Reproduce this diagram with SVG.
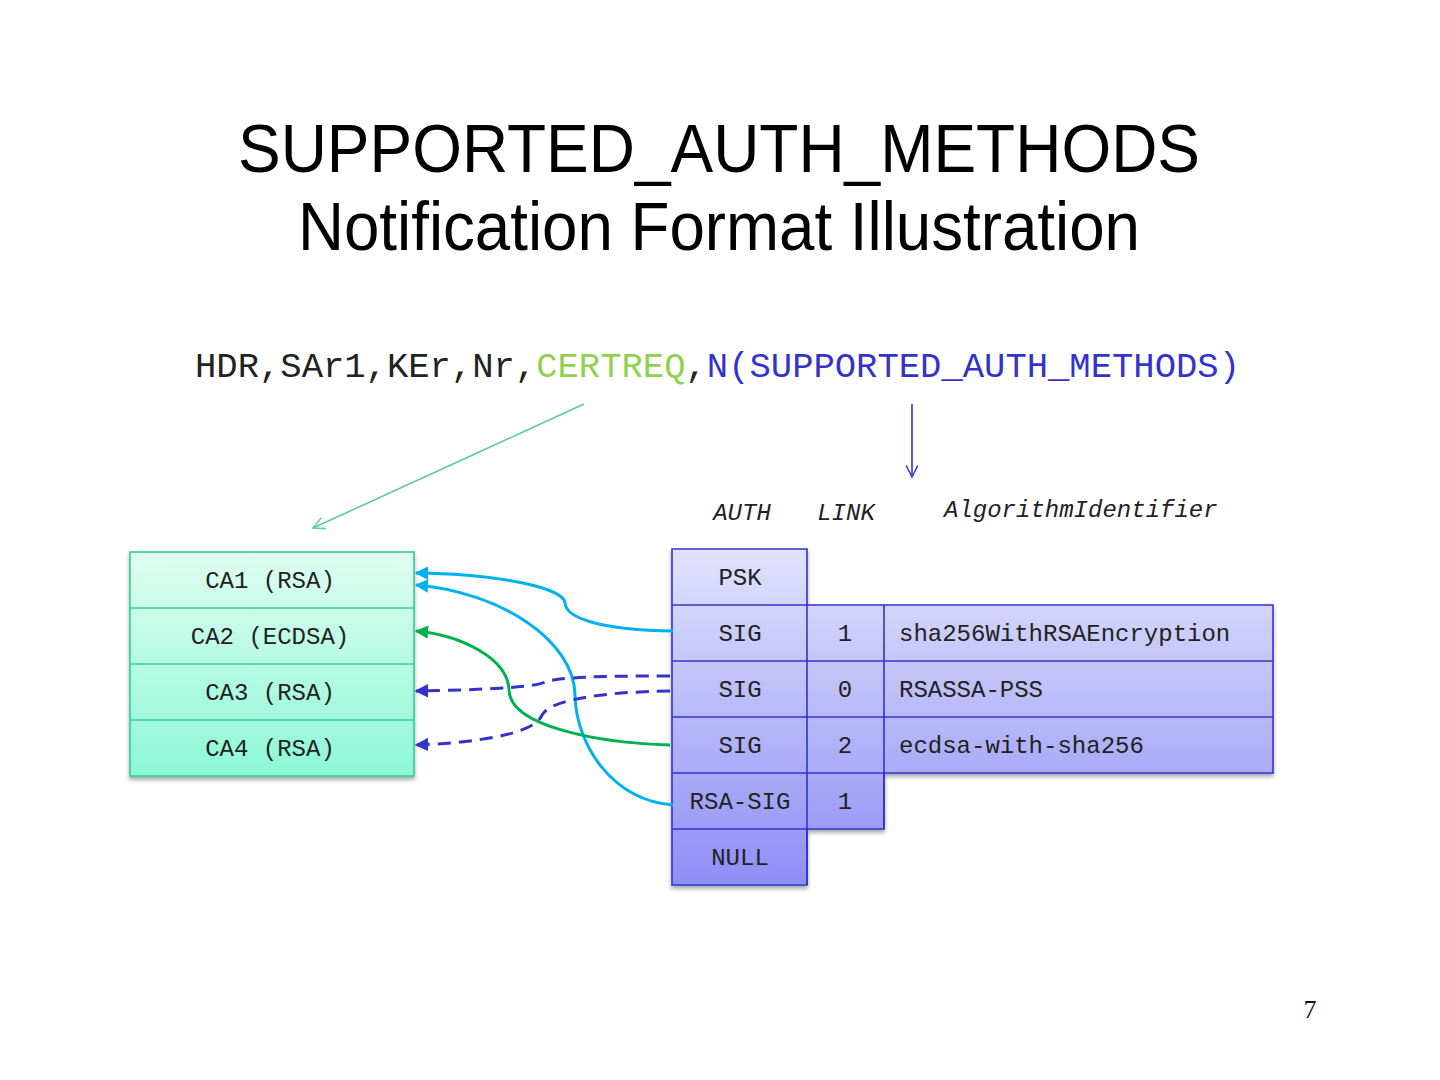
<svg xmlns="http://www.w3.org/2000/svg" width="1440" height="1080" viewBox="0 0 1440 1080">
<defs>
<linearGradient id="gMint" x1="0" y1="0" x2="0" y2="1">
<stop offset="0" stop-color="#E0FDF1"/>
<stop offset="1" stop-color="#8DF8D6"/>
</linearGradient>
<linearGradient id="gLav" gradientUnits="userSpaceOnUse" x1="0" y1="549" x2="0" y2="885">
<stop offset="0" stop-color="#E2E2FC"/>
<stop offset="1" stop-color="#8E8EF6"/>
</linearGradient>
<marker id="aCyan" viewBox="0 0 10 10" refX="9" refY="5" markerWidth="4.5" markerHeight="4.5" orient="auto" markerUnits="strokeWidth">
<path d="M0,0 L10,5 L0,10 z" fill="#00B0F0"/>
</marker>
<marker id="aGreen" viewBox="0 0 10 10" refX="9" refY="5" markerWidth="4.5" markerHeight="4.5" orient="auto" markerUnits="strokeWidth">
<path d="M0,0 L10,5 L0,10 z" fill="#00B050"/>
</marker>
<marker id="aBlue" viewBox="0 0 10 10" refX="9" refY="5" markerWidth="4.5" markerHeight="4.5" orient="auto" markerUnits="strokeWidth">
<path d="M0,0 L10,5 L0,10 z" fill="#3333CC"/>
</marker>
<marker id="oGreen" viewBox="0 0 12 12" refX="11" refY="6" markerWidth="14" markerHeight="14" orient="auto" markerUnits="userSpaceOnUse">
<path d="M1,1 L11,6 L1,11" fill="none" stroke="#5CC9A0" stroke-width="1.2"/>
</marker>
<marker id="oBlue" viewBox="0 0 12 12" refX="11" refY="6" markerWidth="14" markerHeight="14" orient="auto" markerUnits="userSpaceOnUse">
<path d="M1,1 L11,6 L1,11" fill="none" stroke="#3333CC" stroke-width="1.2"/>
</marker>
<filter id="sh" x="-10%" y="-10%" width="120%" height="120%">
<feGaussianBlur in="SourceAlpha" stdDeviation="2"/>
<feOffset dx="0" dy="3"/>
<feComponentTransfer><feFuncA type="linear" slope="0.35"/></feComponentTransfer>
<feMerge><feMergeNode/><feMergeNode in="SourceGraphic"/></feMerge>
</filter>
</defs>
<style>
.title{font-family:"Liberation Sans",Arial,sans-serif;font-size:68px;fill:#000;}
.mono{font-family:"Liberation Mono","Courier New",monospace;font-size:24px;fill:#222;}
.hdr{font-family:"Liberation Mono","Courier New",monospace;font-size:24px;font-style:italic;fill:#222;}
.code{font-family:"Liberation Mono","Courier New",monospace;font-size:35.5px;}
.cell{stroke:#3333CC;stroke-width:1.6;fill:none;}
.mcell{stroke:#33CC99;stroke-width:1.6;fill:none;}
.conn{fill:none;stroke-width:3;}
</style>
<rect width="1440" height="1080" fill="#FFFFFF"/>
<g id="title">
<text class="title" x="719" y="172" text-anchor="middle" textLength="962" lengthAdjust="spacingAndGlyphs">SUPPORTED_AUTH_METHODS</text>
<text class="title" x="719" y="250" text-anchor="middle" textLength="842" lengthAdjust="spacingAndGlyphs">Notification Format Illustration</text>
</g>
<g id="message">
<text class="code" x="195" y="377" textLength="1045" lengthAdjust="spacingAndGlyphs"><tspan fill="#222">HDR,SAr1,KEr,Nr,</tspan><tspan fill="#92D050">CERTREQ</tspan><tspan fill="#222">,</tspan><tspan fill="#3333CC">N(SUPPORTED_AUTH_METHODS)</tspan></text>
</g>
<g id="headers">
<text class="hdr" x="742" y="520" text-anchor="middle">AUTH</text>
<text class="hdr" x="846" y="520" text-anchor="middle">LINK</text>
<text class="hdr" x="944" y="517">AlgorithmIdentifier</text>
</g>
<g id="ca-table" filter="url(#sh)">
<rect x="130" y="552" width="284" height="224" fill="url(#gMint)" stroke="#33CC99" stroke-width="1.6"/>
<line class="mcell" x1="130" y1="608" x2="414" y2="608"/>
<line class="mcell" x1="130" y1="664" x2="414" y2="664"/>
<line class="mcell" x1="130" y1="720" x2="414" y2="720"/>
</g>
<g id="ca1"><text class="mono" x="270" y="588" text-anchor="middle">CA1 (RSA)</text></g>
<g id="ca2"><text class="mono" x="270" y="644" text-anchor="middle">CA2 (ECDSA)</text></g>
<g id="ca3"><text class="mono" x="270" y="700" text-anchor="middle">CA3 (RSA)</text></g>
<g id="ca4"><text class="mono" x="270" y="756" text-anchor="middle">CA4 (RSA)</text></g>
<g id="auth-table" filter="url(#sh)">
<path d="M672,549 H807 V605 H1273 V773 H884 V829 H807 V885 H672 Z" fill="url(#gLav)" stroke="#3333CC" stroke-width="1.6"/>
<line class="cell" x1="672" y1="605" x2="807" y2="605"/>
<line class="cell" x1="672" y1="661" x2="1273" y2="661"/>
<line class="cell" x1="672" y1="717" x2="1273" y2="717"/>
<line class="cell" x1="672" y1="773" x2="884" y2="773"/>
<line class="cell" x1="672" y1="829" x2="807" y2="829"/>
<line class="cell" x1="807" y1="605" x2="807" y2="885"/>
<line class="cell" x1="884" y1="605" x2="884" y2="829"/>
</g>
<g id="row-psk"><text class="mono" x="740" y="585" text-anchor="middle">PSK</text></g>
<g id="row-sig1">
<text class="mono" x="740" y="641" text-anchor="middle">SIG</text>
<text class="mono" x="845" y="641" text-anchor="middle">1</text>
<text class="mono" x="899" y="641">sha256WithRSAEncryption</text>
</g>
<g id="row-sig0">
<text class="mono" x="740" y="697" text-anchor="middle">SIG</text>
<text class="mono" x="845" y="697" text-anchor="middle">0</text>
<text class="mono" x="899" y="697">RSASSA-PSS</text>
</g>
<g id="row-sig2">
<text class="mono" x="740" y="753" text-anchor="middle">SIG</text>
<text class="mono" x="845" y="753" text-anchor="middle">2</text>
<text class="mono" x="899" y="753">ecdsa-with-sha256</text>
</g>
<g id="row-rsasig">
<text class="mono" x="740" y="809" text-anchor="middle">RSA-SIG</text>
<text class="mono" x="845" y="809" text-anchor="middle">1</text>
</g>
<g id="row-null"><text class="mono" x="740" y="865" text-anchor="middle">NULL</text></g>
<g id="connectors">
<line x1="584" y1="404" x2="313" y2="528" stroke="#5CC9A0" stroke-width="1.6" marker-end="url(#oGreen)"/>
<line x1="912" y1="404" x2="912" y2="477" stroke="#3333CC" stroke-width="1.6" marker-end="url(#oBlue)"/>
<path class="conn" stroke="#00B0F0" d="M673,631 C600,630 566,618 565,603 C564,588 500,574 416,573" marker-end="url(#aCyan)"/>
<path class="conn" stroke="#00B0F0" d="M673,805 C612,800 576,745 575,695 C574,640 500,592 416,585" marker-end="url(#aCyan)"/>
<path class="conn" stroke="#00B050" d="M670,745 C600,743 510,727 509,690 C508,658 460,635 416,631" marker-end="url(#aGreen)"/>
<path class="conn" stroke="#3333CC" stroke-dasharray="13,8" d="M670,676 C600,676 560,677 545,682 C535,688 470,690 416,691" marker-end="url(#aBlue)"/>
<path class="conn" stroke="#3333CC" stroke-dasharray="13,8" d="M670,691 C600,692 550,700 542,715 C535,735 470,743 416,745" marker-end="url(#aBlue)"/>
</g>
<g id="page-number">
<text x="1310" y="1018" text-anchor="middle" font-family="'Liberation Serif','Times New Roman',serif" font-size="26" fill="#111">7</text>
</g>
</svg>
